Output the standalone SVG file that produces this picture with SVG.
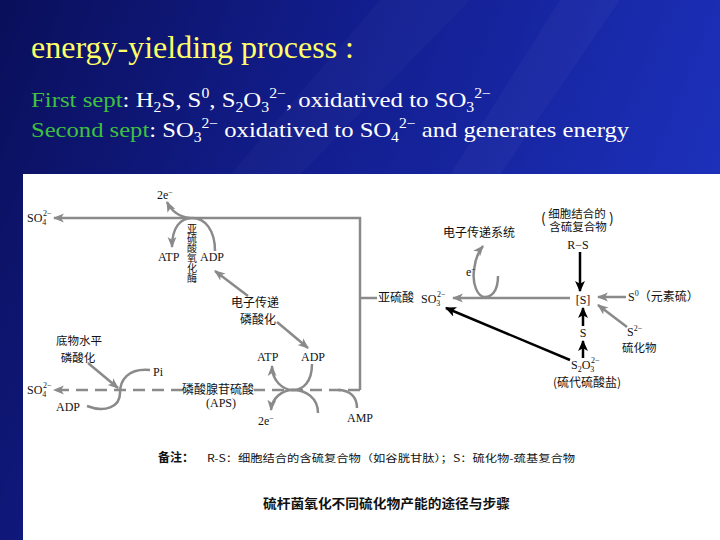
<svg xmlns="http://www.w3.org/2000/svg" width="720" height="540" viewBox="0 0 720 540">
<defs>
<linearGradient id="bg" x1="0" y1="0" x2="1" y2="0.3">
<stop offset="0" stop-color="#0a0f5a"/>
<stop offset="0.45" stop-color="#121d8c"/>
<stop offset="1" stop-color="#1c30ba"/>
</linearGradient>
<marker id="ag" viewBox="0 0 10 10" refX="9" refY="5" markerWidth="11" markerHeight="11" markerUnits="userSpaceOnUse" orient="auto"><path d="M0,1 L10,5 L0,9 L2.5,5 z" fill="#8a8a8a"/></marker>
<marker id="ab" viewBox="0 0 10 10" refX="9" refY="5" markerWidth="11" markerHeight="11" markerUnits="userSpaceOnUse" orient="auto"><path d="M0,0.5 L10,5 L0,9.5 L2.5,5 z" fill="#000"/></marker>
<style>
.ti{font-family:"Liberation Serif",serif;font-size:31px;fill:#ffff66}
.l2{font-family:"Liberation Serif",serif;font-size:22px;fill:#fff}
.gr{fill:#3fc03f}
.ss{font-size:14px}
.t{font-family:"Liberation Serif","Noto Sans CJK SC",serif;font-size:12px;fill:#111}
.c{font-family:"Noto Sans CJK SC",sans-serif;font-size:12px;fill:#111}
.sm{font-size:8px}
.g{fill:none;stroke:#8a8a8a;stroke-width:2.5}
.k{fill:none;stroke:#000;stroke-width:2.5}
.d{stroke-dasharray:12 7}
.m{text-anchor:middle}
</style>
</defs>
<rect width="720" height="540" fill="url(#bg)"/>
<polygon points="380,0 470,0 300,175 230,175" fill="#fff" opacity="0.025"/>
<polygon points="560,0 620,0 500,175 450,175" fill="#fff" opacity="0.03"/>
<rect x="23" y="174" width="697" height="366" fill="#fff"/>

<g id="header">
<text class="ti" x="31" y="58" textLength="323" lengthAdjust="spacingAndGlyphs">energy-yielding process :</text>
<text class="l2" x="31" y="107" textLength="460" lengthAdjust="spacingAndGlyphs"><tspan class="gr">First sept</tspan>: H<tspan class="ss" dy="5">2</tspan><tspan dy="-5">S, S</tspan><tspan class="ss" dy="-9">0</tspan><tspan dy="9">, S</tspan><tspan class="ss" dy="5">2</tspan><tspan dy="-5">O</tspan><tspan class="ss" dy="5">3</tspan><tspan class="ss" dy="-14">2−</tspan><tspan dy="9">, oxidatived to SO</tspan><tspan class="ss" dy="5">3</tspan><tspan class="ss" dy="-14">2−</tspan></text>
<text class="l2" x="31" y="137" textLength="598" lengthAdjust="spacingAndGlyphs"><tspan class="gr">Second sept</tspan>: SO<tspan class="ss" dy="5">3</tspan><tspan class="ss" dy="-14">2−</tspan><tspan dy="9"> oxidatived to SO</tspan><tspan class="ss" dy="5">4</tspan><tspan class="ss" dy="-14">2−</tspan><tspan dy="9"> and generates energy</tspan></text>
</g>

<g id="connectors">
<path class="g" d="M377,298 L360,298"/>
<path class="g" d="M360,298 L360,218 L54,218" marker-end="url(#ag)"/>
<path class="g" d="M360,298 L360,390"/>
<path class="g d" d="M360,390 L254,390"/>
<path class="g d" d="M183,390 L54,390" marker-end="url(#ag)"/>
<path class="g" d="M215,251 C215,230 205,218 192,218 C180,218 172,228 172,247" marker-end="url(#ag)"/>
<path class="g" d="M190,218 C180,217 172,212 167,202" marker-end="url(#ag)"/>
<path class="g" d="M248,296 L215,271" marker-end="url(#ag)"/>
<path class="g" d="M277,322 L308,348" marker-end="url(#ag)"/>
<path class="g" d="M312,364 C312,382 303,390 293,390 C282,390 272,380 272,366" marker-end="url(#ag)"/>
<path class="g" d="M318,413 C318,398 306,390 293,390 C282,390 272,398 271,410" marker-end="url(#ag)"/>
<path class="g" d="M338,390 C350,390 357,397 357,408"/>
<path class="g" d="M88,363 L118,388" marker-end="url(#ag)"/>
<path class="g" d="M150,370 C128,368 120,380 120,393 C120,407 105,413 87,406"/>
<path class="g" d="M498,276 C498,292 491,297 485,297 C478,297 472,285 474,270 C475,260 478,252 483,246" marker-end="url(#ag)"/>
<path class="g" d="M570,298 L453,298" marker-end="url(#ag)"/>
<path class="g" d="M626,297 L598,297" marker-end="url(#ag)"/>
<path class="g" d="M627,327 L598,305" marker-end="url(#ag)"/>
<path class="k" d="M580,252 L580,291" marker-end="url(#ab)"/>
<path class="k" d="M583,326 L583,308" marker-end="url(#ab)"/>
<path class="k" d="M583,358 L583,341" marker-end="url(#ab)"/>
<path class="k" d="M570,360 L446,308" marker-end="url(#ab)"/>
</g>

<g id="so4-top"><text class="t" x="27" y="222">SO<tspan class="sm" dy="3">4</tspan><tspan class="sm" x="43" dy="-9">2−</tspan></text></g>
<g id="e2-top"><text class="t" x="157" y="199">2e<tspan class="sm" dy="-4">−</tspan></text></g>
<g id="atp-top"><text class="t" x="158" y="261">ATP</text></g>
<g id="adp-top"><text class="t" x="200" y="261">ADP</text></g>
<g id="sulfite-oxidase"><text class="c" x="192" y="223" style="font-size:10px;writing-mode:vertical-rl">亚硫酸氧化酶</text></g>
<g id="etp"><text class="c m" x="255" y="307">电子传递<tspan x="258" dy="17">磷酸化</tspan></text></g>
<g id="atp-mid"><text class="t" x="257" y="361">ATP</text></g>
<g id="adp-mid"><text class="t" x="301" y="361">ADP</text></g>
<g id="e2-mid"><text class="t" x="258" y="425">2e<tspan class="sm" dy="-4">−</tspan></text></g>
<g id="amp"><text class="t" x="347" y="422">AMP</text></g>
<g id="aps"><text class="c m" x="218" y="394">磷酸腺苷硫酸<tspan class="t" x="221" dy="13">(APS)</tspan></text></g>
<g id="slp"><text class="c m" x="79" y="345" style="font-size:11.5px">底物水平<tspan x="78" dy="16.5">磷酸化</tspan></text></g>
<g id="pi"><text class="t" x="153" y="376">Pi</text></g>
<g id="adp-low"><text class="t" x="56" y="411">ADP</text></g>
<g id="so4-low"><text class="t" x="27" y="394">SO<tspan class="sm" dy="3">4</tspan><tspan class="sm" x="43" dy="-9">2−</tspan></text></g>
<g id="so3"><text class="c" x="378" y="302">亚硫酸</text><text class="t" x="421" y="303">SO<tspan class="sm" dy="3">3</tspan><tspan class="sm" x="437" dy="-9">2−</tspan></text></g>
<g id="ets"><text class="c m" x="479" y="237">电子传递系统</text><text class="t" x="466" y="276">e<tspan class="sm" dy="-4">−</tspan></text></g>
<g id="rs"><text class="c" x="541" y="223" style="font-size:14px">(</text><text class="c m" x="577" y="218" style="font-size:11.5px">细胞结合的<tspan x="578" dy="13">含硫复合物</tspan></text><text class="c" x="609" y="223" style="font-size:14px">)</text><text class="t m" x="578" y="249">R−S</text></g>
<g id="s-pool"><text class="t m" x="583" y="304">[S]</text></g>
<g id="s0"><text class="t" x="628" y="301">S<tspan class="sm" dy="-5">0</tspan><tspan class="c" dy="5">（元素硫）</tspan></text></g>
<g id="s2"><text class="t" x="627" y="336">S<tspan class="sm" dy="-5">2−</tspan><tspan class="c" x="622" dy="21" style="font-size:11.5px">硫化物</tspan></text></g>
<g id="s"><text class="t m" x="583" y="337">S</text></g>
<g id="s2o3"><text class="t" x="571" y="369">S<tspan class="sm" dy="3">2</tspan><tspan dy="-3">O</tspan><tspan class="sm" dy="3">3</tspan><tspan class="sm" x="591" dy="-9">2−</tspan></text><text class="c m" x="587" y="387">(硫代硫酸盐)</text></g>

<g id="note"><text class="c" x="158" y="462" style="font-weight:bold;font-size:12px">备注：</text><text class="c" x="207" y="462" style="font-size:10px" textLength="368" lengthAdjust="spacingAndGlyphs">R-S：细胞结合的含硫复合物（如谷胱甘肽）；S：硫化物-巯基复合物</text></g>
<g id="caption"><text class="c" x="263" y="508" style="font-weight:bold;font-size:13px" textLength="247" lengthAdjust="spacingAndGlyphs">硫杆菌氧化不同硫化物产能的途径与步骤</text></g>
</svg>
